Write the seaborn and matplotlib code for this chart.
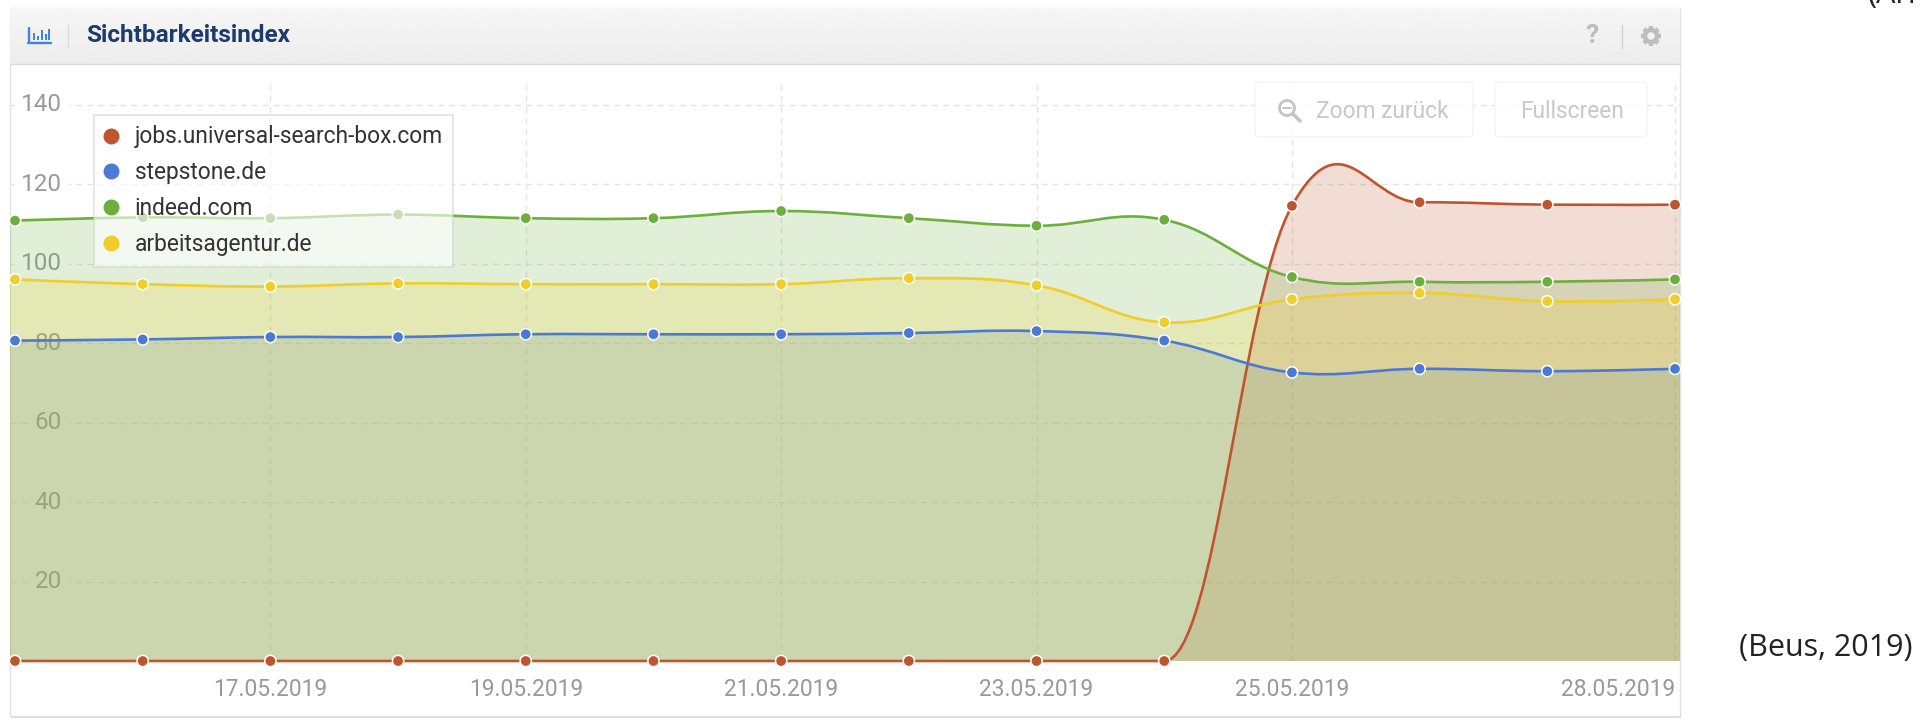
import numpy as np
import pandas as pd
import matplotlib
matplotlib.use("Agg")
from matplotlib import pyplot as plt
from matplotlib import dates as mdates
from matplotlib.lines import Line2D
from matplotlib.patches import Circle, FancyBboxPatch, PathPatch, Rectangle
from matplotlib.path import Path
from matplotlib.transforms import ScaledTranslation
import seaborn as sns

dates = ["2019-05-15", "2019-05-16", "2019-05-17", "2019-05-18", "2019-05-19", "2019-05-20", "2019-05-21",
         "2019-05-22", "2019-05-23", "2019-05-24", "2019-05-25", "2019-05-26", "2019-05-27", "2019-05-28"]
universal = [0, 0, 0, 0, 0, 0, 0, 0, 0, 0, 114.5, 115.4, 114.8, 114.8]
stepstone = [80.6, 80.9, 81.5, 81.5, 82.2, 82.2, 82.2, 82.5, 83.0, 80.6, 72.6, 73.5, 72.9, 73.5]
indeed = [110.8, 111.6, 111.4, 112.3, 111.4, 111.4, 113.2, 111.4, 109.5, 111.0, 96.6, 95.4, 95.4, 96.0]
arbeitsagentur = [96.0, 94.8, 94.2, 95.0, 94.8, 94.8, 94.8, 96.3, 94.5, 85.2, 91.0, 92.6, 90.5, 91.0]

names = ["jobs.universal-search-box.com", "stepstone.de", "indeed.com", "arbeitsagentur.de"]
series = [universal, stepstone, indeed, arbeitsagentur]
colors = ["#BF5530", "#4A7AD6", "#6CAF3C", "#F0CD28"]

x_ticks = ["2019-05-17", "2019-05-19", "2019-05-21", "2019-05-23", "2019-05-25", "2019-05-28"]
x_labels = ["17.05.2019", "19.05.2019", "21.05.2019", "23.05.2019", "25.05.2019", "28.05.2019"]
y_ticks = [20, 40, 60, 80, 100, 120, 140]

W, H = 1920, 722


def spline_controls(x, y):
    # smooth line rule of the original widget, overshoots are kept but never below zero
    n = len(x)
    left = [(x[i], y[i]) for i in range(n)]
    right = [(x[i], y[i]) for i in range(n)]
    for i in range(1, n - 1):
        lx = (1.5 * x[i] + x[i - 1]) / 2.5
        ly = (1.5 * y[i] + y[i - 1]) / 2.5
        rx = (1.5 * x[i] + x[i + 1]) / 2.5
        ry = (1.5 * y[i] + y[i + 1]) / 2.5
        corr = (ry - ly) * (rx - x[i]) / (rx - lx) + y[i] - ry
        ly += corr
        ry += corr
        if ly < 0 or ry < 0:
            ly = y[i]
            ry = y[i]
        left[i] = (lx, ly)
        right[i] = (rx, ry)
    return left, right


def spline_vertices(x, y):
    left, right = spline_controls(x, y)
    verts = [(x[0], y[0])]
    for i in range(1, len(x)):
        verts += [right[i - 1], left[i], (x[i], y[i])]
    return verts


sns.set_theme(style="white")
plt.rcParams["font.family"] = ["Roboto", "DejaVu Sans"]
plt.rcParams["lines.scale_dashes"] = False

fig = plt.figure(figsize=(W / 100, H / 100), dpi=100, facecolor="white")

# card and header behind the chart
bg = fig.add_axes([0, 0, 1, 1], zorder=0)
bg.set_xlim(0, W)
bg.set_ylim(H, 0)
bg.axis("off")
bg.add_patch(Rectangle((11, 10), 1670, 708, fc="#DCDCDC", ec="none"))
bg.add_patch(Rectangle((10, 8), 1670, 708, fc="white", ec="#E2E2E2", lw=1))
gradient = np.linspace(0.965, 0.925, 40).reshape(-1, 1)
bg.imshow(gradient, extent=(10, 1680, 64, 8), cmap="gray", vmin=0, vmax=1, aspect="auto", zorder=1)
bg.set_xlim(0, W)
bg.set_ylim(H, 0)
bg.plot([10, 1680], [64, 64], color="#DADADA", lw=1, zorder=2)
bg.plot([68, 68], [25, 48], color="#DDDDDD", lw=1, zorder=2)
bg.plot([1622, 1622], [25, 48], color="#D2D2D2", lw=1, zorder=2)
# bar icon
for bx, bh in [(32.5, 7), (36.5, 4), (40.5, 10), (44.5, 6), (48, 11)]:
    bg.add_patch(Rectangle((bx, 40 - bh), 2.4, bh, fc="#3F86DE", ec="none", zorder=2))
bg.plot([28, 50.5], [43, 43], color="#3F86DE", lw=1.7, zorder=2)
bg.plot([28.5, 28.5], [28, 43], color="#3F86DE", lw=1.7, zorder=2)
bg.text(86, 36, "Sichtbarkeitsindex", fontsize=17.5, fontweight="bold", color="#1C3A6E", va="center", zorder=3)
bg.text(1592, 36, "?", fontsize=19, fontweight="bold", color="#BDBDBD", ha="center", va="center", zorder=3)
# gear icon
for a in np.deg2rad(np.arange(0, 360, 45)):
    bg.plot([1651 + 6 * np.cos(a), 1651 + 10 * np.cos(a)], [36 + 6 * np.sin(a), 36 + 10 * np.sin(a)],
            color="#BDBDBD", lw=3.2, solid_capstyle="butt", zorder=2)
bg.add_patch(Circle((1651, 36), 6, fc="none", ec="#BDBDBD", lw=3.2, zorder=2))
bg.text(1739, 648, "(Beus, 2019)", fontsize=22, color="#222222", family="Open Sans", va="center", zorder=3)
bg.text(1868, 3, "(Arn", fontsize=22, color="#222222", family="Open Sans", va="baseline", zorder=3)

# chart area
ax = fig.add_axes([10 / W, 1 - 661 / H, 1670 / W, (661 - 82) / H], zorder=1)
ax.patch.set_alpha(0)

x_num = mdates.date2num(pd.to_datetime(dates))
day_px = (1675 - 15) / 13
x_left = x_num[0] - 5 / day_px
x_right = x_num[-1] + 5 / day_px

for i, (vals, color) in enumerate(zip(series, colors)):
    verts = spline_vertices(list(x_num), vals)
    curve_codes = [Path.MOVETO] + [Path.CURVE4] * (len(verts) - 1)
    ax.add_patch(PathPatch(Path(verts, curve_codes), fc="none", ec=color, lw=1.9, zorder=3 + i * 0.1,
                           clip_on=False, capstyle="round"))
    area = [(x_left, 0), (x_left, vals[0])] + verts + [(x_right, vals[-1]), (x_right, 0), (x_left, 0)]
    area_codes = [Path.MOVETO, Path.LINETO, Path.LINETO] + [Path.CURVE4] * (len(verts) - 1) + \
                 [Path.LINETO, Path.LINETO, Path.CLOSEPOLY]
    ax.add_patch(PathPatch(Path(area, area_codes), fc=color, ec="none", alpha=0.2, zorder=2))

df = pd.DataFrame({
    "date": np.tile(x_num, len(names)),
    "value": np.concatenate(series),
    "site": np.repeat(names, len(dates)),
})
sns.scatterplot(data=df, x="date", y="value", hue="site", hue_order=names, palette=colors, s=66, linewidth=1.1,
                edgecolor="white", ax=ax, legend=False, zorder=5, clip_on=False)

ax.set_xlim(x_left, x_right)
ax.set_ylim(0, (661 - 82) / 3.975)
ax.set_xlabel("")
ax.set_ylabel("")
ax.set_xticks(mdates.date2num(pd.to_datetime(x_ticks)))
ax.set_xticklabels(x_labels)
ax.set_yticks(y_ticks)
ax.set_yticklabels([str(v) for v in y_ticks], bbox=dict(fc="white", ec="none", pad=3), va="center_baseline")
ax.xaxis.get_ticklabels()[-1].set_ha("right")
ax.tick_params(axis="x", length=0, pad=12, labelsize=16.4, labelcolor="#999999")
ax.tick_params(axis="y", length=0, pad=-37.5, labelsize=17.5, labelcolor="#9A9A9A")
# the y labels sit a little above their grid lines in the original
for label in ax.get_yticklabels():
    label.set_transform(label.get_transform() + ScaledTranslation(0, 2.4 / 100, fig.dpi_scale_trans))
ax.set_axisbelow(True)
ax.grid(True, color="#E4E4E4", lw=1, linestyle=(0, (4.3, 3.6)))
sns.despine(ax=ax, left=True, bottom=True)

handles = [Line2D([], [], ls="none", marker="o", ms=11.5, mfc=c, mec="none") for c in colors]
leg = ax.legend(handles, names, loc="upper left", bbox_to_anchor=(94 / W, 1 - 115 / H),
                bbox_transform=fig.transFigure, borderaxespad=0, fontsize=16.4, labelcolor="#333333",
                frameon=True, framealpha=0.62, facecolor="white", edgecolor="#CFCFCF", fancybox=False,
                labelspacing=0.57, handletextpad=0.72, handlelength=0.61, borderpad=0.46)
leg.set_zorder(10)
leg.get_frame().set_linewidth(1.2)

# faded buttons on top of the grid
fg = fig.add_axes([0, 0, 1, 1], zorder=2)
fg.set_xlim(0, W)
fg.set_ylim(H, 0)
fg.axis("off")
fg.patch.set_alpha(0)
for bx, bw in [(1255, 218), (1495, 152)]:
    fg.add_patch(FancyBboxPatch((bx, 82), bw, 55, boxstyle="round,pad=0,rounding_size=4", fc="white",
                                ec="#F1F1F1", alpha=0.75, lw=1))
fg.text(1316, 111, "Zoom zur\u00fcck", fontsize=16.4, color="#C8C8C8", va="center")
fg.text(1520, 111, "Fullscreen", fontsize=16.4, color="#C8C8C8", va="center")
fg.add_patch(Circle((1287, 108), 7.5, fc="none", ec="#C4C4C4", lw=2))
fg.plot([1293, 1300], [114, 121], color="#C4C4C4", lw=2.6)
fg.plot([1283, 1291], [108, 108], color="#C4C4C4", lw=1.4)

fig.savefig("out.png", dpi=100)
